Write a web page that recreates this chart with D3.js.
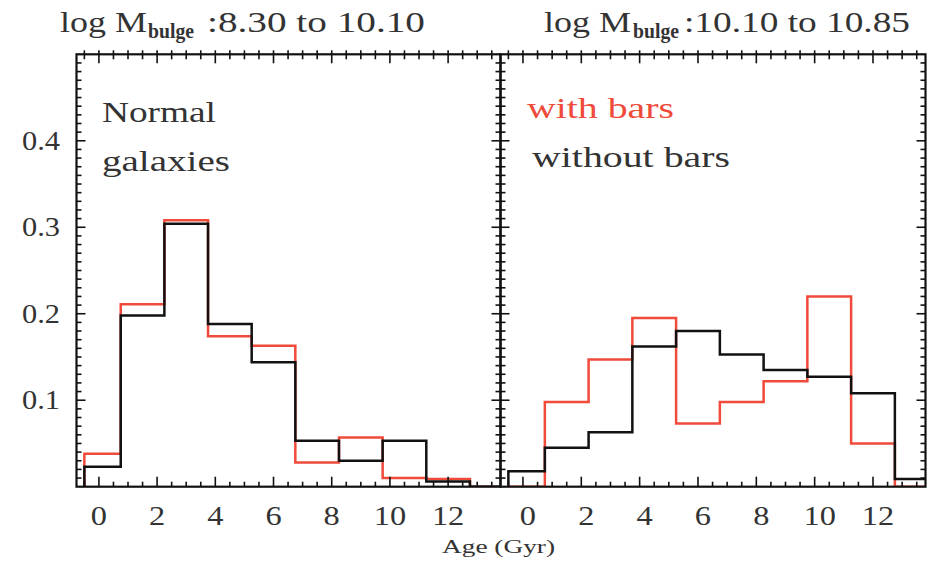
<!DOCTYPE html>
<html>
<head>
<meta charset="utf-8">
<script src="https://cdn.jsdelivr.net/npm/d3@7"></script>
<style>
  body { margin: 0; background: #fff; }
  text { font-family: "Liberation Serif", "DejaVu Serif", serif; fill: #333; }
</style>
</head>
<body>
<div id="chart-area"></div>
<script>
// bin edges (Gyr) and histogram fractions
var binEdges = [-0.5, 0.75, 2.25, 3.75, 5.25, 6.75, 8.25, 9.75, 11.25, 12.75, 14];
var leftRed    = [0.038, 0.211, 0.308, 0.174, 0.163, 0.028, 0.057, 0.010, 0.009, 0];
var leftBlack  = [0.023, 0.198, 0.304, 0.188, 0.144, 0.053, 0.030, 0.053, 0.006, 0];
var rightRed   = [0, 0.098, 0.147, 0.195, 0.073, 0.098, 0.122, 0.220, 0.050, 0];
var rightBlack = [0.018, 0.045, 0.063, 0.162, 0.180, 0.153, 0.135, 0.127, 0.108, 0.009];
var xTickLabels = [0, 2, 4, 6, 8, 10, 12];
var yTickLabels = [0.1, 0.2, 0.3, 0.4];

var red = "#f04a3a";
var width = 928, height = 563;
var top_ = 54.3, bottom = 486.7;

var svg = d3.select("#chart-area")
            .append("svg")
            .attr("width", width)
            .attr("height", height);

var yScale = d3.scaleLinear().domain([0, 0.5]).range([bottom, top_]);

var panels = [
  { x0: 76.5, x1: 500.5, red: leftRed, black: leftBlack, labelDx: 0 },
  { x0: 500.5, x1: 925.5, red: rightRed, black: rightBlack, labelDx: 5 }
];

panels.forEach(function(p, i) {
  var xScale = d3.scaleLinear().domain([-0.77, 13.8]).range([p.x0, p.x1]);
  var g = svg.append("g");

  g.append("clipPath").attr("id", "clip" + i)
    .append("rect")
    .attr("x", p.x0).attr("y", top_)
    .attr("width", p.x1 - p.x0).attr("height", bottom - top_);

  // step histograms
  var line = d3.line()
    .x(d => xScale(d[0]))
    .y(d => yScale(d[1]))
    .curve(d3.curveStepAfter);

  [[p.red, red], [p.black, "#111"]].forEach(function(s) {
    var vals = s[0];
    var pts = [[binEdges[0], 0]];
    vals.forEach((v, k) => pts.push([binEdges[k], v]));
    pts.push([binEdges[vals.length], vals[vals.length - 1]]);
    pts.push([binEdges[vals.length], 0]);
    g.append("path")
      .attr("d", line(pts))
      .attr("clip-path", "url(#clip" + i + ")")
      .attr("fill", "none")
      .attr("stroke", s[1])
      .attr("stroke-width", 2.5);
  });

  // frame
  g.append("rect")
    .attr("x", p.x0).attr("y", top_)
    .attr("width", p.x1 - p.x0).attr("height", bottom - top_)
    .attr("fill", "none").attr("stroke", "#111").attr("stroke-width", 2.2);

  // x ticks, every 0.5, long every 2
  var xt = d3.range(-0.5, 13.8, 0.5);
  xt.forEach(function(t) {
    var major = Math.abs(t / 2 - Math.round(t / 2)) < 1e-6;
    var x = xScale(t);
    g.append("line").attr("x1", x).attr("x2", x)
      .attr("y1", bottom).attr("y2", bottom - (major ? 10 : 5))
      .attr("stroke", "#111").attr("stroke-width", 1.6);
    g.append("line").attr("x1", x).attr("x2", x)
      .attr("y1", top_ - 4).attr("y2", top_ + (major ? 9 : 5))
      .attr("stroke", "#111").attr("stroke-width", 1.6);
  });

  // y ticks, every 0.01, long every 0.1
  d3.range(0.01, 0.5, 0.01).forEach(function(t) {
    var major = Math.abs(t * 10 - Math.round(t * 10)) < 1e-6;
    var y = yScale(t);
    var len = major ? 9 : 5;
    g.append("line").attr("x1", p.x0).attr("x2", p.x0 + len)
      .attr("y1", y).attr("y2", y)
      .attr("stroke", "#111").attr("stroke-width", 1.6);
    g.append("line").attr("x1", p.x1).attr("x2", p.x1 - len)
      .attr("y1", y).attr("y2", y)
      .attr("stroke", "#111").attr("stroke-width", 1.6);
  });

  // x tick labels
  g.selectAll(".xl").data(xTickLabels).enter()
    .append("text")
    .attr("x", d => xScale(d) + p.labelDx)
    .attr("y", 525)
    .attr("text-anchor", "middle")
    .attr("font-size", "27px")
    .attr("transform", d => "translate(" + (xScale(d) + p.labelDx) + ",0) scale(1.2,1) translate(" + -(xScale(d) + p.labelDx) + ",0)")
    .text(d => d);
});

// y tick labels (left panel only)
svg.selectAll(".yl").data(yTickLabels).enter()
  .append("text")
  .attr("x", 22)
  .attr("y", d => yScale(d) + 9)
  .attr("font-size", "27px")
  .attr("textLength", 38).attr("lengthAdjust", "spacingAndGlyphs")
  .text(d => d.toFixed(1));

// titles
function title(x, subX, restX, rest, restLen) {
  svg.append("text").attr("x", x).attr("y", 32).attr("font-size", "29px")
    .attr("textLength", 87).attr("lengthAdjust", "spacingAndGlyphs").text("log M");
  svg.append("text").attr("x", subX).attr("y", 38).attr("font-size", "20px")
    .attr("font-weight", "bold")
    .attr("textLength", 46).attr("lengthAdjust", "spacingAndGlyphs").text("bulge");
  svg.append("text").attr("x", restX).attr("y", 32).attr("font-size", "29px")
    .attr("textLength", restLen).attr("lengthAdjust", "spacingAndGlyphs").text(rest);
}
title(60, 148, 207, ":8.30 to 10.10", 218);
title(544, 633, 684, ":10.10 to 10.85", 226);

// labels inside panels
function label(txt, x, y, len, color) {
  svg.append("text").attr("x", x).attr("y", y).attr("font-size", "29px")
    .attr("textLength", len).attr("lengthAdjust", "spacingAndGlyphs")
    .style("fill", color).text(txt);
}
label("Normal", 102, 122, 114, "#333");
label("galaxies", 102, 171, 128, "#333");
label("with bars", 527, 118, 147, red);
label("without bars", 532, 167, 198, "#333");

// x axis title
svg.append("text")
  .attr("x", 442).attr("y", 553)
  .attr("font-size", "19px")
  .attr("textLength", 113).attr("lengthAdjust", "spacingAndGlyphs")
  .text("Age (Gyr)");
</script>
</body>
</html>
